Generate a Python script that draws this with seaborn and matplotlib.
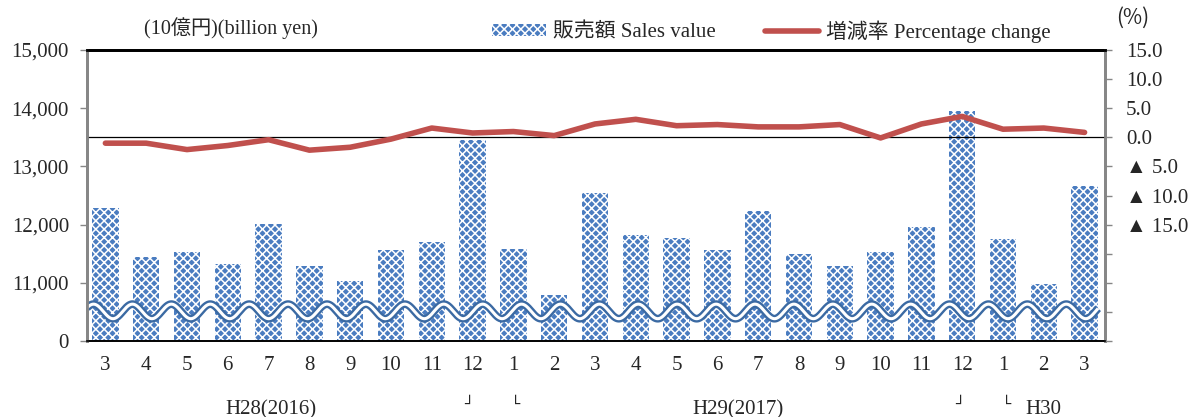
import numpy as np
import pandas as pd
import matplotlib
matplotlib.use("Agg")
import matplotlib.pyplot as plt
import seaborn as sns
from matplotlib.patches import Patch
from matplotlib.lines import Line2D

# data (Mar 2016 - Mar 2018)
months = ["3", "4", "5", "6", "7", "8", "9", "10", "11", "12", "1", "2",
          "3", "4", "5", "6", "7", "8", "9", "10", "11", "12", "1", "2", "3"]
sales = [12287, 11450, 11531, 11330, 12005, 11296, 11038, 11558, 11708, 13460,
         11582, 10797, 12545, 11816, 11771, 11570, 12229, 11496, 11296, 11531,
         11960, 13946, 11754, 10981, 12662]
pct_change = [-1.0, -1.0, -2.1, -1.4, -0.4, -2.2, -1.7, -0.3, 1.6, 0.75,
              1.0, 0.3, 2.3, 3.1, 2.0, 2.2, 1.8, 1.8, 2.2, -0.1,
              2.3, 3.6, 1.4, 1.6, 0.85]

left_ticks = [10000, 11000, 12000, 13000, 14000, 15000]
left_labels = ["0", "11,000", "12,000", "13,000", "14,000", "15,000"]
right_ticks = [-35, -30, -25, -20, -15, -10, -5, 0, 5, 10, 15]
right_labels = ["", "", "", "", "▲ 15.0", "▲ 10.0", "▲ 5.0", "0.0", "5.0", "10.0", "15.0"]

era_labels = ["H28(2016)", "┘", "└", "H29(2017)", "┘", "└", "H30"]
era_x = [4.05, 8.9, 10.05, 15.5, 20.93, 22.08, 23.0]

BAR_BLUE = "#4a7cc0"
LINE_RED = "#c0504d"
WAVE_BLUE = "#3b6aa3"
GREY = "#868686"
HATCH = "xxxx"

df = pd.DataFrame({"idx": range(len(months)), "sales": sales, "pct": pct_change})

sns.set_style("white")
plt.rcParams["font.family"] = ["Liberation Serif", "Noto Sans CJK JP", "DejaVu Sans"]
plt.rcParams["hatch.linewidth"] = 1.1

fig = plt.figure(figsize=(11.92, 4.17), dpi=100)
ax = fig.add_axes([0.073, 0.182, 0.854, 0.698])

sns.barplot(data=df, x="idx", y="sales", ax=ax, color=BAR_BLUE, width=0.65,
            saturation=1, zorder=2)
for p in ax.patches:
    p.set_facecolor(BAR_BLUE)
    p.set_edgecolor("white")
    p.set_linewidth(0)
    p.set_hatch(HATCH)

ax.set_xlim(-0.45, 24.5)
ax.set_ylim(10000, 15000)
ax.set_yticks(left_ticks)
ax.set_yticklabels(left_labels)
ax.set_xticks(range(len(months)))
ax.set_xticklabels(months)
ax.set_xlabel("")
ax.set_ylabel("")
ax.tick_params(axis="y", direction="out", length=5, width=1, color=GREY,
               pad=8, labelsize=15, left=True)
ax.tick_params(axis="x", length=0, pad=11, labelsize=15)

# axis-break symbol (double wavy line)
wx = np.linspace(-0.45, 24.33, 3000)
period = 38.9 / 40.79
wy = 10510 + 125 * np.cos(2 * np.pi * (wx + 0.29) / period)
ax.plot(wx, wy, color=WAVE_BLUE, lw=5.6, zorder=3, solid_capstyle="butt")
ax.plot(wx, wy, color="white", lw=2.2, zorder=4, solid_capstyle="butt")

ax2 = ax.twinx()
ax2.axhline(0, color="black", lw=0.9, zorder=1)
sns.lineplot(data=df, x="idx", y="pct", ax=ax2, color=LINE_RED, lw=4,
             zorder=3)
ax2.set_ylim(-35, 15)
ax2.set_yticks(right_ticks)
ax2.set_yticklabels(right_labels)
ax2.set_ylabel("")
ax2.tick_params(axis="y", direction="out", length=5, width=1, color=GREY,
                pad=10, labelsize=15)
for t in ax2.get_yticklabels():
    t.set_family(["Liberation Serif", "DejaVu Sans"])

for a in (ax, ax2):
    a.spines["top"].set_color("black")
    a.spines["top"].set_linewidth(2)
    a.spines["bottom"].set_color("black")
    a.spines["bottom"].set_linewidth(1.2)
    a.spines["left"].set_color(GREY)
    a.spines["left"].set_linewidth(2)
    a.spines["right"].set_color(GREY)
    a.spines["right"].set_linewidth(2)

# era labels under the month labels
trans = ax.get_xaxis_transform()
for lab, x in zip(era_labels, era_x):
    if lab in ("┘", "└"):
        ax.text(x, -0.216, lab, transform=trans, ha="center", va="center",
                fontsize=11, family="DejaVu Sans")
    else:
        ax.text(x, -0.235, lab, transform=trans, ha="center", va="center",
                fontsize=15)

fig.text(0.194, 0.933, "(10億円)(billion yen)", ha="center", va="center", fontsize=14.5)
fig.text(0.950, 0.957, "(%)", ha="center", va="center", fontsize=15,
         family=["Noto Sans CJK JP", "DejaVu Sans"])

handles = [Patch(facecolor=BAR_BLUE, edgecolor="white", hatch=HATCH, lw=0),
           Line2D([0], [0], color=LINE_RED, lw=4)]
fig.legend(handles, ["販売額 Sales value", "増減率 Percentage change"],
           loc="center", bbox_to_anchor=(0.647, 0.925), ncol=2, frameon=False,
           fontsize=15, handlelength=2.6, handleheight=0.55, handletextpad=0.3,
           columnspacing=2.4, borderpad=0)

fig.savefig("out.png", dpi=100)
